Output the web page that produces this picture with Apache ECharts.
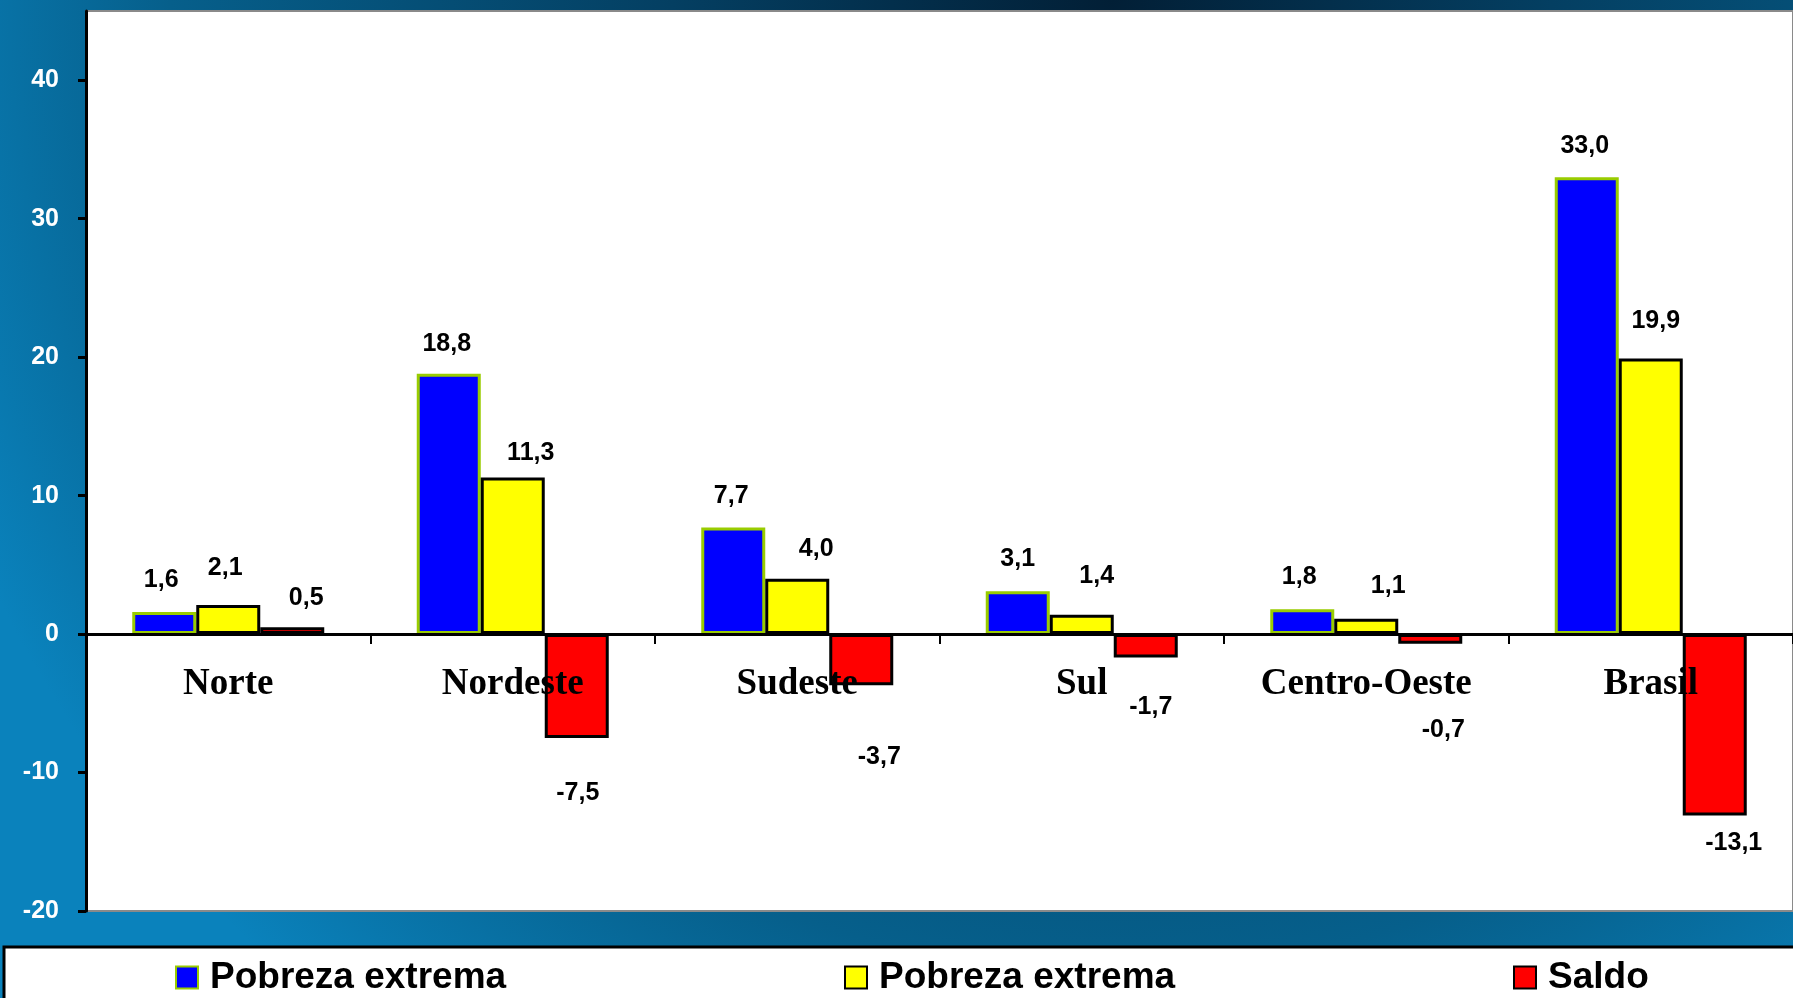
<!DOCTYPE html>
<html>
<head>
<meta charset="utf-8">
<script src="https://cdn.jsdelivr.net/npm/echarts@6/dist/echarts.min.js"></script>
<style>
  html, body { margin: 0; padding: 0; }
  body {
    width: 1793px; height: 998px; overflow: hidden;
    background: radial-gradient(ellipse 70% 130% at 62% 0%, #021f36 0%, #043f62 35%, #065f8b 75%, #0a82bc 100%);
  }
  #chart { width: 1793px; height: 998px; }
</style>
</head>
<body>
<div id="chart"></div>
<script>
// ---- data ----
const categories = ['Norte', 'Nordeste', 'Sudeste', 'Sul', 'Centro-Oeste', 'Brasil'];
const pobrezaA = [1.6, 18.8, 7.7, 3.1, 1.8, 33.0];
const pobrezaB = [2.1, 11.3, 4.0, 1.4, 1.1, 19.9];
const saldo = [0.5, -7.5, -3.7, -1.7, -0.7, -13.1];
const legendLabels = ['Pobreza extrema', 'Pobreza extrema', 'Saldo'];
const yTickValues = [-20, -10, 0, 10, 20, 30, 40];
const yMin = -20, yMax = 45, yStep = 10;

// ---- label nudges (layout only) ----
const nudgeA = [[-3, -19], [-2, -17], [-2, -19], [0, -20], [-3, -20], [-2, -19]];
const nudgeB = [[-3, -24], [18, -12], [19, -17], [15, -26], [22, -20], [5, -25]];
const nudgeC = [[14, -17], [1, 43], [18, 59], [5, 37], [13, 74], [19, 15]];

const seriesKeys = ['Pobreza extrema (A)', 'Pobreza extrema (B)', 'Saldo'];
const fmt = v => v.toFixed(1).replace('.', ',');

function buildData(values, nudges) {
  return values.map((v, i) => ({
    value: v,
    label: {
      position: v < 0 ? 'bottom' : 'top',
      offset: nudges[i]
    }
  }));
}

const labelStyle = {
  show: true,
  distance: 0,
  formatter: p => fmt(p.value),
  fontFamily: 'Liberation Sans, Arial, sans-serif',
  fontWeight: 'bold',
  fontSize: 25,
  color: '#000'
};

const styles = [
  { color: '#0000ff', borderColor: '#99cc00', borderWidth: 3 },
  { color: '#ffff00', borderColor: '#000000', borderWidth: 3 },
  { color: '#ff0000', borderColor: '#000000', borderWidth: 3 }
];
const seriesValues = [pobrezaA, pobrezaB, saldo];
const nudges = [nudgeA, nudgeB, nudgeC];
const legendLeft = [175, 844, 1513];

const gridTop = 11, gridBottom = 87, chartH = 998;
const gridH = chartH - gridTop - gridBottom;
const zeroOffset = -gridH * (0 - yMin) / (yMax - yMin);

const chart = echarts.init(document.getElementById('chart'), null, { renderer: 'canvas' });

const option = {
  backgroundColor: 'transparent',
  animation: false,
  grid: {
    left: 86, top: gridTop, right: -11, bottom: gridBottom,
    show: true, backgroundColor: '#ffffff',
    borderColor: '#8a8a8a', borderWidth: 2
  },
  graphic: [{
    type: 'rect',
    shape: { x: 4, y: 947, width: 1830, height: 80 },
    style: { fill: '#ffffff', stroke: '#000000', lineWidth: 3 },
    z: 0
  }],
  legend: [0, 1, 2].map(i => ({
    data: [seriesKeys[i]],
    left: legendLeft[i],
    top: 959,
    padding: 0,
    itemWidth: 22,
    itemHeight: 22,
    icon: 'rect',
    selectedMode: false,
    formatter: name => legendLabels[seriesKeys.indexOf(name)],
    textStyle: {
      fontFamily: 'Liberation Sans, Arial, sans-serif',
      fontWeight: 'bold', fontSize: 37, color: '#000',
      padding: [0, 0, 0, 7]
    }
  })),
  xAxis: {
    type: 'category',
    data: categories,
    position: 'bottom',
    offset: zeroOffset,
    z: 10,
    axisLine: { onZero: false, lineStyle: { color: '#000', width: 3 } },
    axisTick: { show: true, interval: 0, length: 10, lineStyle: { color: '#000', width: 2 } },
    axisLabel: {
      interval: 0, margin: 32,
      fontFamily: 'Liberation Serif, Times New Roman, serif',
      fontWeight: 'bold', fontSize: 37, color: '#000'
    },
    splitLine: { show: false }
  },
  yAxis: {
    type: 'value',
    min: yMin, max: yMax, interval: yStep,
    axisLine: { show: true, onZero: false, lineStyle: { color: '#000', width: 3 } },
    axisTick: { show: true, length: 8, customValues: yTickValues, lineStyle: { color: '#000', width: 3 } },
    axisLabel: {
      customValues: yTickValues,
      margin: 27,
      formatter: v => (yTickValues.indexOf(v) >= 0 ? String(v) : ''),
      fontFamily: 'Liberation Sans, Arial, sans-serif',
      fontWeight: 'bold', fontSize: 25, color: '#ffffff'
    },
    splitLine: { show: false }
  },
  series: [0, 1, 2].map(i => ({
    name: seriesKeys[i],
    type: 'bar',
    barWidth: 64,
    barGap: '0%',
    itemStyle: styles[i],
    label: labelStyle,
    data: buildData(seriesValues[i], nudges[i])
  }))
};

chart.setOption(option);
</script>
</body>
</html>
